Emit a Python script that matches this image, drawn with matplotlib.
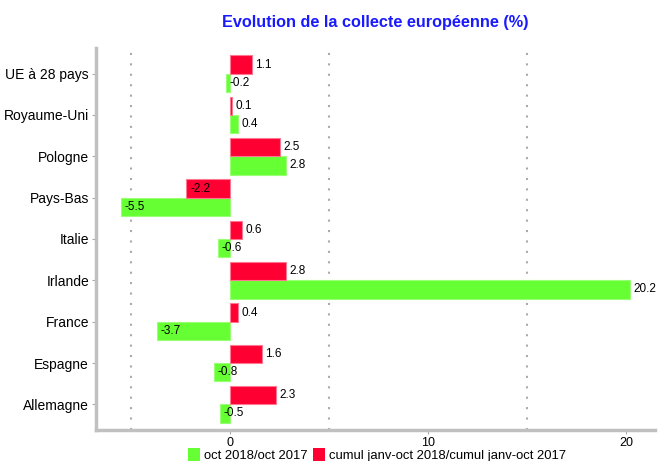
import numpy as np
import matplotlib.pyplot as plt
from matplotlib.patches import Patch

plt.rcParams['font.family'] = ['Liberation Sans', 'DejaVu Sans']

pays = ['Allemagne', 'Espagne', 'France', 'Irlande', 'Italie',
        'Pays-Bas', 'Pologne', 'Royaume-Uni', 'UE à 28 pays']
oct_vals = [-0.5, -0.8, -3.7, 20.2, -0.6, -5.5, 2.8, 0.4, -0.2]
cumul_vals = [2.3, 1.6, 0.4, 2.8, 0.6, -2.2, 2.5, 0.1, 1.1]
xticks = [0, 10, 20]
grid_x = [-5, 5, 15]

green = '#66ff33'
red = '#ff0033'

fig = plt.figure(figsize=(6.59, 4.61), dpi=100)
ax = fig.add_axes([96/659, 1-430/461, (655-96)/659, (430-48)/461])

y = np.arange(len(pays))
h = 0.44
ax.barh(y - h/2, oct_vals, height=h, color=green, edgecolor='#99ff77', linewidth=0.8, zorder=3)
ax.barh(y + h/2, cumul_vals, height=h, color=red, edgecolor='#ff7790', linewidth=0.8, zorder=3)

for yy, v in zip(y - h/2, oct_vals):
    ax.text(v + 0.18, yy, f'{v:.1f}', va='center', ha='left', fontsize=8.5, zorder=4)
for yy, v in zip(y + h/2, cumul_vals):
    ax.text(v + 0.18, yy, f'{v:.1f}', va='center', ha='left', fontsize=8.5, zorder=4)

for gx in grid_x:
    ax.axvline(gx, color='#aaaaaa', linestyle=(0, (1, 4)), linewidth=1.5, zorder=1)

ax.set_xlim(-6.77, 21.46)
ax.set_ylim(-0.62, 8.62)
ax.set_xticks(xticks)
ax.set_yticks(y)
ax.set_yticklabels(pays, fontsize=10)
ax.tick_params(axis='x', labelsize=9, length=3, color='#aaaaaa', pad=2)
ax.tick_params(axis='y', length=3, color='#aaaaaa', pad=2)

for s in ['top', 'right']:
    ax.spines[s].set_visible(False)
for s in ['left', 'bottom']:
    ax.spines[s].set_color('#c0c0c0')
    ax.spines[s].set_linewidth(2.5)

fig.text(375/659, 1-22/461, 'Evolution de la collecte européenne (%)', color='#1a1aff',
         fontsize=11.7, fontweight='bold', ha='center', va='center')

handles = [Patch(facecolor=green, edgecolor='none', label='oct 2018/oct 2017'),
           Patch(facecolor=red, edgecolor='none', label='cumul janv-oct 2018/cumul janv-oct 2017')]
fig.legend(handles=handles, loc='center', bbox_to_anchor=(377/659, 1-455/461), ncol=2,
           frameon=False, fontsize=9.4, handlelength=0.9, handleheight=1.2,
           handletextpad=0.3, columnspacing=0.4, borderpad=0)

fig.savefig('out.png', dpi=100)
